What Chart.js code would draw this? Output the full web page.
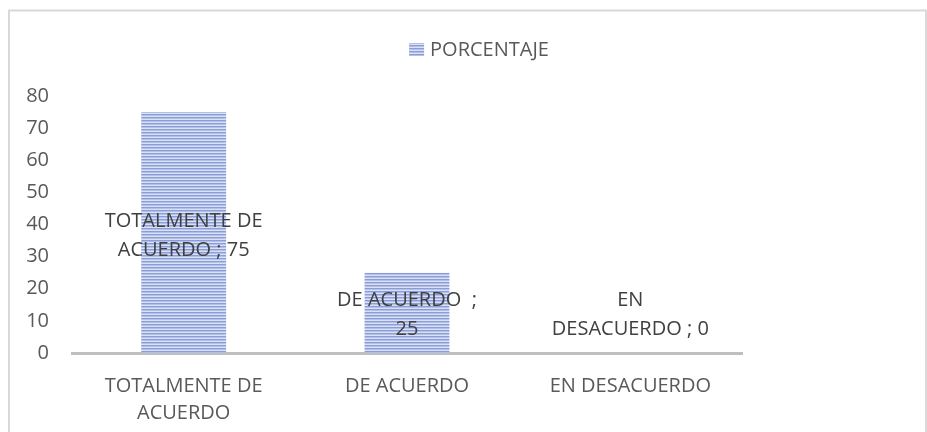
<!DOCTYPE html>
<html>
<head>
<meta charset="utf-8">
<script src="https://cdn.jsdelivr.net/npm/chart.js@4/dist/chart.umd.min.js"></script>
<style>
  html, body { margin: 0; padding: 0; background: #fff; }
  #wrap { width: 927px; height: 432px; }
</style>
</head>
<body>
<div id="wrap"><canvas id="chart" width="927" height="432"></canvas></div>
<script>
const categories = ['TOTALMENTE DE ACUERDO', 'DE ACUERDO ', 'EN DESACUERDO'];
const porcentaje = [75, 25, 0];
const seriesName = 'PORCENTAJE';
const yTicks = [0, 10, 20, 30, 40, 50, 60, 70, 80];

const FONT = '"Open Sans", "Liberation Sans", sans-serif';
const SIZE = 20;

// horizontal stripe fill like the Excel pattern
function stripes() {
    const c = document.createElement('canvas');
    c.width = 4; c.height = 3;
    const g = c.getContext('2d');
    g.fillStyle = '#8a9dd9'; g.fillRect(0, 0, 4, 1);
    g.fillStyle = '#b3c0e8'; g.fillRect(0, 1, 4, 1);
    g.fillStyle = '#dbe1f4'; g.fillRect(0, 2, 4, 1);
    return g.createPattern(c, 'repeat');
}
const fill = stripes();

const measure = document.createElement('canvas').getContext('2d');
function wrap(text, maxW) {
    measure.font = SIZE + 'px ' + FONT;
    const words = text.split(' ');
    const lines = [];
    let cur = null;
    words.forEach(w => {
        const test = cur === null ? w : cur + ' ' + w;
        if (cur !== null && cur.trim() !== '' && measure.measureText(test.trim()).width > maxW) {
            lines.push(cur);
            cur = w;
        } else {
            cur = test;
        }
    });
    lines.push(cur);
    return lines;
}

const frame = {
    id: 'frame',
    beforeDraw(chart) {
        const ctx = chart.ctx;
        ctx.save();
        ctx.strokeStyle = '#d9d9d9';
        ctx.lineWidth = 2;
        ctx.strokeRect(9, 10.5, 917, 440);
        ctx.restore();
    }
};

const legendBox = {
    id: 'legendBox',
    afterDraw(chart) {
        const ctx = chart.ctx;
        ctx.save();
        ctx.font = SIZE + 'px ' + FONT;
        const tw = ctx.measureText(seriesName).width;
        const total = 15 + 6 + tw;
        const x = 479 - total / 2;
        const y = 49;
        ctx.fillStyle = fill;
        ctx.fillRect(x, y - 6, 15, 13);
        ctx.fillStyle = '#595959';
        ctx.textBaseline = 'middle';
        ctx.fillText(seriesName, x + 21, y + 1);
        ctx.restore();
    }
};

const valueLabels = {
    id: 'valueLabels',
    afterDatasetsDraw(chart) {
        const ctx = chart.ctx;
        const meta = chart.getDatasetMeta(0);
        const bottom = chart.chartArea.bottom;
        ctx.save();
        ctx.font = SIZE + 'px ' + FONT;
        ctx.fillStyle = '#404040';
        ctx.textAlign = 'center';
        ctx.textBaseline = 'middle';
        const lh = 29;
        meta.data.forEach((bar, i) => {
            const lines = wrap(categories[i] + ' ; ' + porcentaje[i], 159);
            let cy = (bar.y + bar.base) / 2 + 3;
            const half = lines.length * lh / 2 + 9;
            if (cy > bottom - half) cy = bottom - half;
            lines.forEach((ln, j) => {
                ctx.fillText(ln, bar.x, cy - (lines.length - 1) * lh / 2 + j * lh);
            });
        });
        ctx.restore();
    }
};

new Chart(document.getElementById('chart'), {
    type: 'bar',
    data: {
        labels: categories.map(c => wrap(c.trim(), 175)),
        datasets: [{
            label: seriesName,
            data: porcentaje,
            backgroundColor: fill,
            borderWidth: 0,
            categoryPercentage: 1,
            barPercentage: 0.38
        }]
    },
    options: {
        responsive: false,
        animation: false,
        layout: { padding: { left: 0, right: 185, top: 96, bottom: 0 } },
        plugins: {
            legend: { display: false },
            tooltip: { enabled: false }
        },
        scales: {
            x: {
                grid: { display: false, drawTicks: false },
                border: { display: true, color: '#bfbfbf', width: 3 },
                ticks: {
                    color: '#595959',
                    font: { family: FONT, size: SIZE, lineHeight: 1.35 },
                    padding: 20,
                    maxRotation: 0,
                    autoSkip: false
                },
                afterFit(scale) { scale.height = 79; }
            },
            y: {
                min: 0,
                max: 80,
                afterBuildTicks(scale) { scale.ticks = yTicks.map(v => ({ value: v })); },
                grid: { display: false, drawTicks: false },
                border: { display: false },
                ticks: {
                    color: '#595959',
                    font: { family: FONT, size: SIZE },
                    padding: 23
                },
                afterFit(scale) { scale.width = 72; }
            }
        }
    },
    plugins: [frame, legendBox, valueLabels]
});
</script>
</body>
</html>
